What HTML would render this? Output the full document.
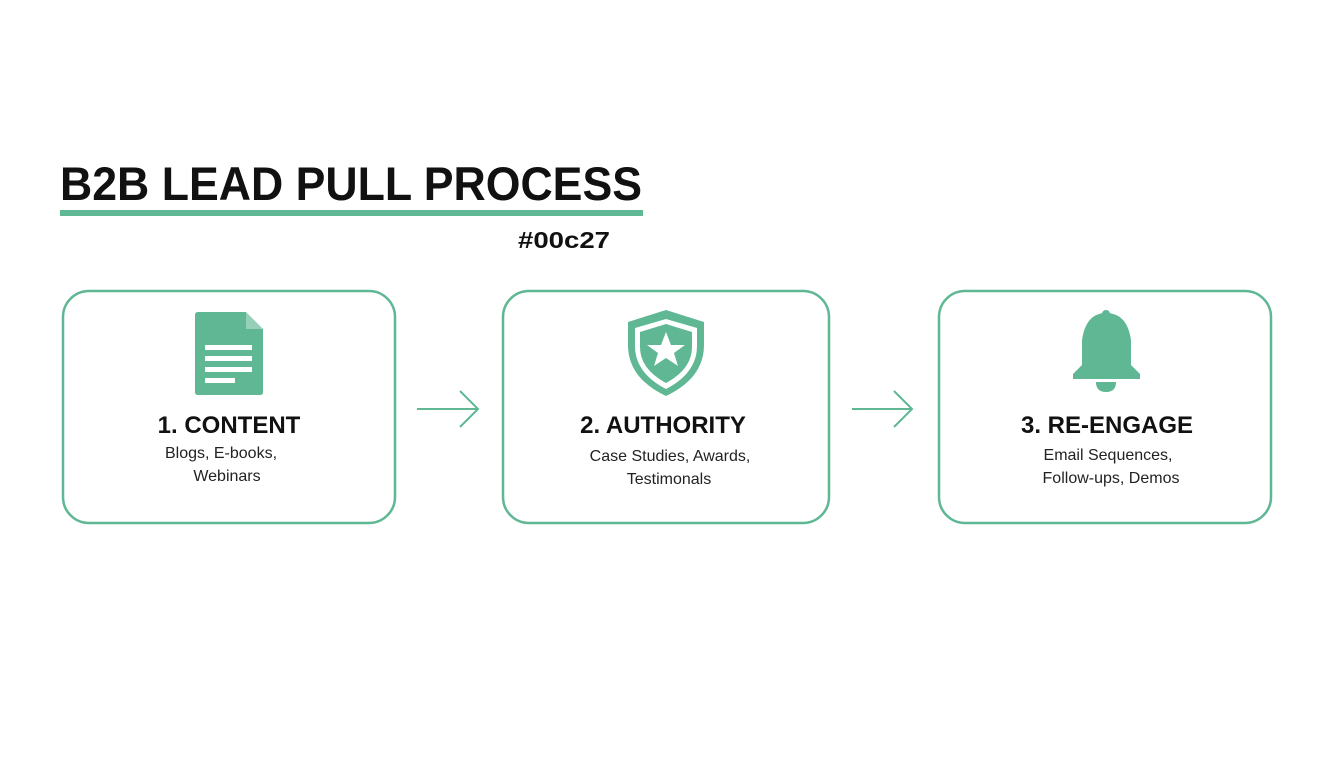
<!DOCTYPE html>
<html><head><meta charset="utf-8"><style>
html,body{margin:0;padding:0;background:#fff;}
svg{display:block;}
text{font-family:"Liberation Sans",sans-serif;}
</style></head><body>
<svg width="1344" height="768" viewBox="0 0 1344 768" xmlns="http://www.w3.org/2000/svg">
<rect width="1344" height="768" fill="#fff"/>
<text x="60" y="200" font-size="47" font-weight="bold" fill="#111" textLength="582" lengthAdjust="spacingAndGlyphs">B2B LEAD PULL PROCESS</text>
<rect x="60" y="210" width="583" height="6" fill="#5fb793"/>
<text x="518" y="248" font-size="23" font-weight="bold" fill="#111" textLength="92" lengthAdjust="spacingAndGlyphs">#00c27</text>
<g fill="none" stroke="#5fb793" stroke-width="2.5">
<rect x="63" y="291" width="332" height="232" rx="26"/>
<rect x="503" y="291" width="326" height="232" rx="26"/>
<rect x="939" y="291" width="332" height="232" rx="26"/>
<path d="M417 409H478M460 391L478 409L460 427" stroke-width="2"/>
<path d="M852 409H912M894 391L912 409L894 427" stroke-width="2"/>
</g>
<path d="M198 312H246L263 329V392Q263 395 260 395H198Q195 395 195 392V315Q195 312 198 312Z" fill="#5fb793"/>
<path d="M246 312V329H263Z" fill="#fff" opacity="0.35"/>
<g fill="#fff"><rect x="205" y="345" width="47" height="5"/><rect x="205" y="356" width="47" height="5"/><rect x="205" y="367" width="47" height="5"/><rect x="205" y="378" width="30" height="5"/></g>
<path d="M666 310L704 322V345Q704 378 666 396Q628 378 628 345V322Z" fill="#5fb793"/>
<path d="M666 319L697 328V346Q697 373 666 389Q635 373 635 346V328Z" fill="#fff"/>
<path d="M666 324L692 332V347Q692 369 666 383Q640 369 640 347V332Z" fill="#5fb793"/>
<path d="M666 332L671 345L685 345L674 353L678 366L666 358L654 366L658 353L647 345L661 345Z" fill="#fff"/>
<circle cx="1106" cy="314" r="4" fill="#5fb793"/>
<path d="M1106 313Q1086 313 1082 340V365L1073 374V379H1140V374L1131 365V340Q1127 313 1106 313Z" fill="#5fb793"/>
<path d="M1096 382H1116Q1116 392 1106 392Q1096 392 1096 382Z" fill="#5fb793"/>
<g font-weight="bold" font-size="24" fill="#111" text-anchor="middle">
<text x="229" y="433">1. CONTENT</text>
<text x="663" y="433">2. AUTHORITY</text>
<text x="1107" y="433">3. RE-ENGAGE</text>
</g>
<g font-size="16" fill="#222" text-anchor="middle">
<text x="221" y="458">Blogs, E-books,</text>
<text x="227" y="481">Webinars</text>
<text x="670" y="461">Case Studies, Awards,</text>
<text x="669" y="484">Testimonals</text>
<text x="1108" y="460">Email Sequences,</text>
<text x="1111" y="483">Follow-ups, Demos</text>
</g>
</svg>
</body></html>
